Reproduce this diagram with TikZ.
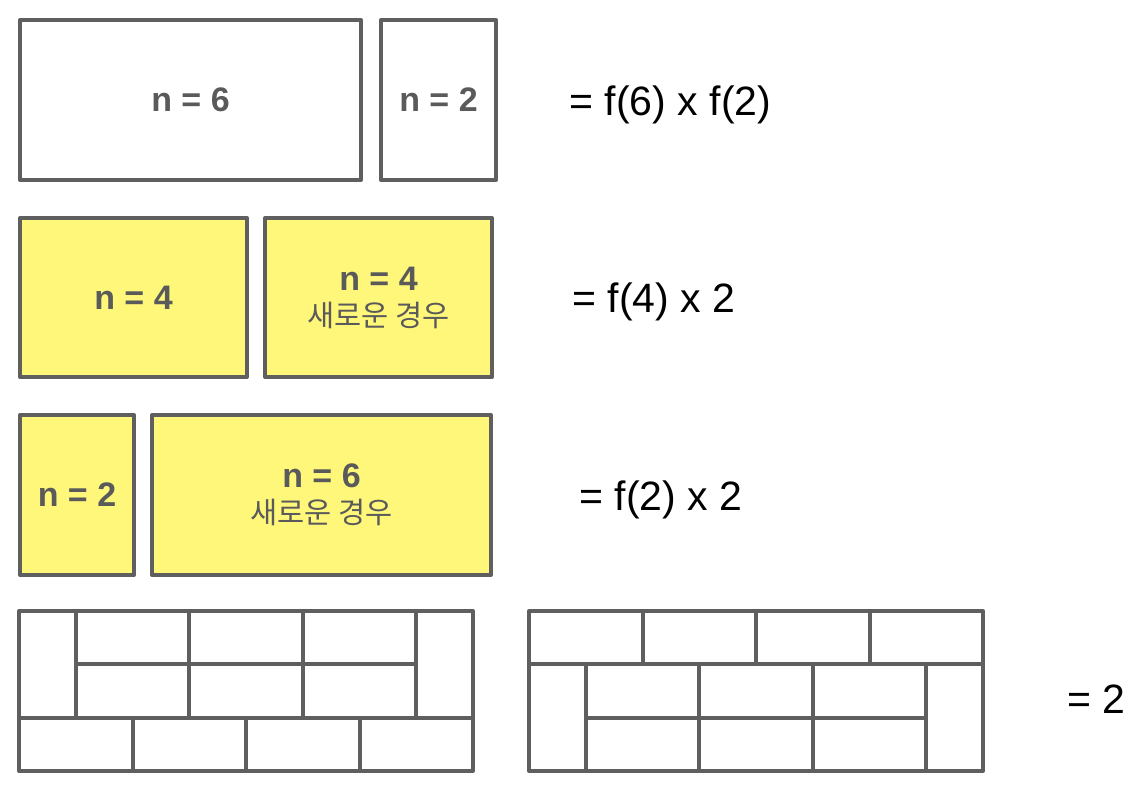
\documentclass[tikz,border=0pt]{standalone}
\usepackage{fontspec}
\setmainfont{Liberation Sans}
\newfontfamily\krfont{Noto Sans CJK KR}
\definecolor{tilegray}{HTML}{5F5F5F}
\definecolor{labelgray}{HTML}{5A5A5A}
\definecolor{sticky}{HTML}{FFF77A}
\newcommand{\newcase}{{\krfont\mdseries\fontsize{29.5}{36}\selectfont 새로운 경우}}
\begin{document}
\begin{tikzpicture}[x=1pt,y=-1pt,
  tile/.style={draw=tilegray, line width=4pt, line join=round},
  box/.style={tile, rectangle, inner sep=0pt, text=labelgray, align=center,
    font=\fontsize{34}{36}\selectfont\bfseries},
  newbox/.style={box, fill=sticky},
  eq/.style={anchor=base west, font=\fontsize{41}{48}\selectfont}]
\useasboundingbox (0,0) rectangle (1148,796);
% f(6) x f(2)
\node[box, minimum width=341pt, minimum height=160pt] (six) at (190.5,100) {n = 6};
\node[box, minimum width=115pt, minimum height=160pt] (two) at (438.5,100) {n = 2};
\node[eq] (eqa) at (566,115) {= f(6) x f(2)};
% f(4) x 2
\node[newbox, minimum width=227pt, minimum height=159pt] (four) at (133.5,297.5) {n = 4};
\node[newbox, minimum width=227pt, minimum height=159pt] (fournew) at (378.5,297.5) {n = 4\\ \newcase};
\node[eq] (eqb) at (569,312) {= f(4) x 2};
% f(2) x 2
\node[newbox, minimum width=114pt, minimum height=160pt] (twob) at (77,495) {n = 2};
\node[newbox, minimum width=339pt, minimum height=160pt] (sixnew) at (321.5,495) {n = 6\\ \newcase};
\node[eq] (eqc) at (576,510) {= f(2) x 2};
% new tilings of n = 8
\begin{scope}[xshift=19pt, yshift=-611pt, x=56.75pt, y=-53.33pt]
\foreach \xa/\ya/\xb/\yb in {0/0/1/2, 1/0/3/1, 3/0/5/1, 5/0/7/1, 1/1/3/2, 3/1/5/2,
    5/1/7/2, 7/0/8/2, 0/2/2/3, 2/2/4/3, 4/2/6/3, 6/2/8/3}
  \draw[tile] (\xa,\ya) rectangle (\xb,\yb);
\end{scope}
\begin{scope}[xshift=529pt, yshift=-611pt, x=56.75pt, y=-53.33pt]
\foreach \xa/\ya/\xb/\yb in {0/0/2/1, 2/0/4/1, 4/0/6/1, 6/0/8/1, 0/1/1/3, 1/1/3/2,
    3/1/5/2, 5/1/7/2, 1/2/3/3, 3/2/5/3, 5/2/7/3, 7/1/8/3}
  \draw[tile] (\xa,\ya) rectangle (\xb,\yb);
\end{scope}
\node[eq] (eqd) at (1064,713) {= 2};
\end{tikzpicture}
\end{document}
